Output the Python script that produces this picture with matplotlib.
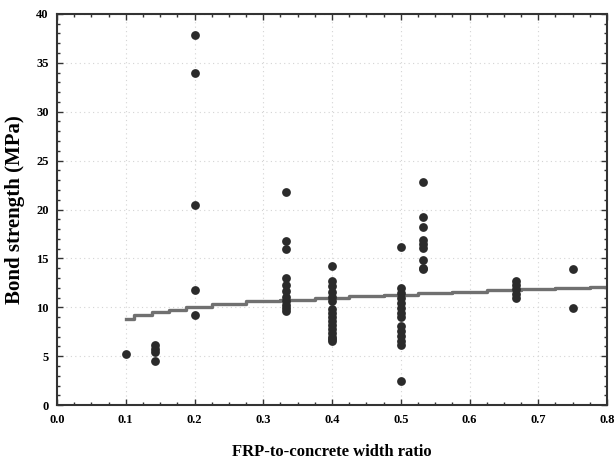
import matplotlib
matplotlib.use("Agg")
import matplotlib.pyplot as plt
from matplotlib.ticker import MultipleLocator

# Test data: FRP-to-concrete width ratio vs bond strength (MPa)
ratio_x = (
    [0.1]
    + [0.143] * 4
    + [0.2] * 5
    + [0.333] * 11
    + [0.4] * 16
    + [0.5] * 14
    + [0.533] * 9
    + [0.667] * 5
    + [0.75] * 2
)
bond_strength = (
    [5.2]
    + [4.5, 5.4, 5.7, 6.1]
    + [37.8, 34.0, 20.5, 11.8, 9.2]
    + [21.8, 16.8, 16.0, 13.0, 12.3, 11.7, 11.1, 10.6, 10.2, 9.9, 9.6]
    + [14.2, 12.7, 12.2, 11.6, 11.1, 10.6, 9.8, 9.4, 9.0, 8.6, 8.2, 7.8, 7.4, 7.0, 6.8, 6.6]
    + [16.2, 12.0, 11.5, 11.0, 10.4, 9.9, 9.4, 9.0, 8.1, 7.6, 7.1, 6.6, 6.1, 2.5]
    + [22.8, 19.2, 18.2, 16.9, 16.5, 16.1, 14.8, 14.0, 13.9]
    + [12.7, 12.3, 11.9, 11.4, 11.0]
    + [13.9, 9.9]
)

# Model curve
model_x = [0.1, 0.125, 0.15, 0.175, 0.2, 0.25, 0.3, 0.35, 0.4, 0.45, 0.5, 0.55, 0.6, 0.65, 0.7, 0.75, 0.8]
model_y = [8.85, 9.2, 9.5, 9.75, 10.0, 10.3, 10.6, 10.8, 11.0, 11.15, 11.3, 11.45, 11.6, 11.75, 11.9, 12.0, 12.1]

x_ticks = [0.0, 0.1, 0.2, 0.3, 0.4, 0.5, 0.6, 0.7, 0.8]
x_tick_labels = ["0.0", "0.1", "0.2", "0.3", "0.4", "0.5", "0.6", "0.7", "0.8"]
y_ticks = [0, 5, 10, 15, 20, 25, 30, 35, 40]

plt.rcParams['font.family'] = ['Liberation Serif', 'DejaVu Serif']

fig = plt.figure(figsize=(6.16, 4.62), dpi=100)
ax = fig.add_axes([0.0925, 0.123, 0.893, 0.847])

ax.grid(True, which='major', color='#d4d4d4', linestyle=(0, (1, 3)), linewidth=0.8)
ax.set_axisbelow(True)

ax.step(model_x, model_y, where='mid', color='#707070', linewidth=2.4, zorder=2)
ax.scatter(ratio_x, bond_strength, s=40, color='#2b2b2b', zorder=3, linewidths=0)

ax.set_xlim(0, 0.8)
ax.set_ylim(0, 40)
ax.set_xticks(x_ticks)
ax.set_xticklabels(x_tick_labels)
ax.set_yticks(y_ticks)
ax.xaxis.set_minor_locator(MultipleLocator(0.025))
ax.yaxis.set_minor_locator(MultipleLocator(1))
ax.tick_params(which='both', direction='in', top=True, right=True, width=1.0, color='#333333')
ax.tick_params(which='major', length=4, labelsize=9, pad=6)
ax.tick_params(which='minor', length=2.5)
for lab in ax.get_xticklabels() + ax.get_yticklabels():
    lab.set_fontweight('bold')

for sp in ax.spines.values():
    sp.set_linewidth(1.5)
    sp.set_color('#333333')

ax.set_xlabel('FRP-to-concrete width ratio', fontsize=12, fontweight='bold', labelpad=13)
ax.set_ylabel('Bond strength (MPa)', fontsize=15, fontweight='bold', labelpad=8)

fig.savefig('out.png', dpi=100)
